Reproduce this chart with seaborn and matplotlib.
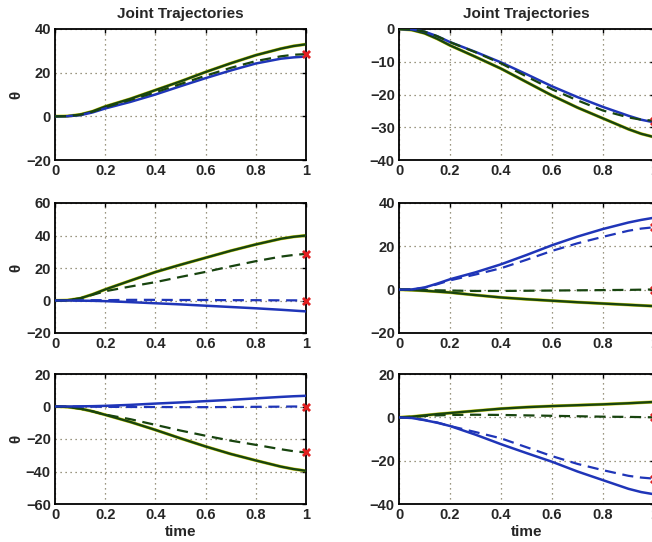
import numpy as np
import pandas as pd
import matplotlib
matplotlib.use("Agg")
import matplotlib.pyplot as plt
import seaborn as sns

# Sample times shared by every trajectory
t = [0, 0.05, 0.1, 0.15, 0.2, 0.3, 0.4, 0.5, 0.6, 0.7, 0.8, 0.9, 0.95, 1.0]

# Joint angles (degrees) for each panel: solid = actual, dashed = planned
tl_green = [0, 0.1, 0.8, 2.3, 4.5, 8.0, 12.0, 16.0, 20.3, 24.3, 28.0, 31.0, 32.2, 33.0]
tl_blue = [0, 0.05, 0.5, 1.8, 3.6, 6.6, 10.0, 13.8, 17.5, 21.0, 24.2, 26.4, 27.0, 27.4]
tl_green_d = [0, 0.1, 0.7, 2.1, 4.1, 7.5, 11.0, 14.8, 18.6, 22.2, 25.3, 27.5, 28.2, 28.5]

tr_green = [0, -0.3, -1.3, -3.0, -5.0, -8.5, -12.1, -16.2, -20.3, -24.0, -27.3, -30.6, -32.0, -33.0]
tr_blue = [0, -0.1, -0.8, -2.2, -4.0, -7.0, -10.2, -13.8, -17.5, -20.8, -23.8, -26.5, -27.7, -28.5]
tr_green_d = [0, -0.1, -0.8, -2.2, -4.0, -7.1, -10.5, -14.5, -18.4, -21.8, -24.9, -27.0, -27.7, -28.0]

ml_green = [0, 0.2, 1.3, 3.8, 6.8, 12.2, 17.5, 22.0, 26.3, 30.6, 34.5, 38.0, 39.2, 40.0]
ml_green_d = [0, 0.2, 1.3, 3.5, 5.7, 8.6, 11.3, 14.5, 17.6, 21.0, 24.2, 27.0, 28.0, 28.7]
ml_blue = [0, 0, -0.1, -0.2, -0.4, -1.0, -1.7, -2.4, -3.2, -4.0, -4.8, -5.7, -6.2, -6.7]
ml_blue_d = [0, 0, 0.1, 0.2, 0.2, 0.4, 0.4, 0.3, 0.3, 0.2, 0.2, 0.1, 0.1, 0.0]

mr_blue = [0, 0.1, 1.0, 2.8, 4.8, 8.0, 11.7, 16.0, 20.5, 24.5, 28.0, 31.0, 32.2, 33.2]
mr_blue_d = [0, 0.1, 0.9, 2.5, 4.3, 7.0, 9.9, 13.8, 17.9, 21.4, 24.4, 27.2, 28.2, 28.8]
mr_green = [0, -0.2, -0.5, -0.9, -1.3, -2.5, -3.6, -4.4, -5.1, -5.8, -6.4, -7.0, -7.3, -7.6]
mr_green_d = [0, 0, -0.2, -0.3, -0.4, -0.6, -0.6, -0.5, -0.4, -0.3, -0.2, -0.1, 0.0, 0.1]

bl_blue = [0, 0, 0.1, 0.2, 0.4, 1.0, 1.8, 2.5, 3.3, 4.1, 5.0, 5.9, 6.3, 6.6]
bl_blue_d = [0, 0, -0.1, -0.1, -0.2, -0.3, -0.3, -0.4, -0.4, -0.3, -0.2, -0.1, 0, 0]
bl_green = [0, -0.3, -1.3, -3.0, -5.1, -9.5, -14.4, -19.6, -24.6, -29.2, -33.2, -37.0, -38.5, -39.6]
bl_green_d = [0, -0.3, -1.3, -3.0, -5.0, -7.8, -11.3, -14.8, -18.0, -21.0, -23.6, -26.3, -27.5, -28.3]

br_green = [0, 0.3, 0.9, 1.5, 2.0, 3.0, 4.0, 4.7, 5.2, 5.6, 6.0, 6.5, 6.8, 7.1]
br_green_d = [0, 0.2, 0.6, 0.9, 1.1, 1.2, 1.1, 0.9, 0.7, 0.5, 0.3, 0.2, 0.1, 0.0]
br_blue = [0, -0.3, -1.3, -2.5, -4.0, -8.0, -12.4, -16.5, -20.5, -25.0, -29.0, -33.0, -34.5, -35.5]
br_blue_d = [0, -0.3, -1.2, -2.4, -4.0, -6.8, -9.7, -13.8, -17.9, -21.5, -24.4, -27.0, -27.8, -28.3]

# Goal angles reached at t = 1
tl_goal = [28.5]
tr_goal = [-28.0]
ml_goal = [28.7, 0.0]
mr_goal = [28.8, 0.0]
bl_goal = [0.0, -28.3]
br_goal = [0.0, -28.3]

# Axis ranges and ticks per panel
tl_ylim, tl_yticks = (-20, 40), [-20, 0, 20, 40]
tr_ylim, tr_yticks = (-40, 0), [-40, -30, -20, -10, 0]
ml_ylim, ml_yticks = (-20, 60), [-20, 0, 20, 40, 60]
mr_ylim, mr_yticks = (-20, 40), [-20, 0, 20, 40]
bl_ylim, bl_yticks = (-60, 20), [-60, -40, -20, 0, 20]
br_ylim, br_yticks = (-40, 20), [-40, -20, 0, 20]
xticks = [0, 0.2, 0.4, 0.6, 0.8, 1]
xticklabels = ["0", "0.2", "0.4", "0.6", "0.8", "1"]

BLUE = "#1f35b8"
GREEN = "#18440f"
YELLOW = "#d4d41c"

sns.set_style("white")
plt.rcParams["font.family"] = ["Liberation Sans", "DejaVu Sans"]
plt.rcParams["font.weight"] = "bold"

fig = plt.figure(figsize=(6.52, 5.42), dpi=100)

col_x = [(55 / 652, 251 / 652), (399 / 652, 255 / 652)]
row_y = [((542 - 160) / 542, 131 / 542), ((542 - 333) / 542, 130 / 542), ((542 - 504) / 542, 130 / 542)]

panels = [
    # (row, col, solid green, solid blue, dashed green, dashed blue, goals, ylim, yticks)
    (0, 0, tl_green, tl_blue, tl_green_d, None, tl_goal, tl_ylim, tl_yticks),
    (0, 1, tr_green, tr_blue, tr_green_d, None, tr_goal, tr_ylim, tr_yticks),
    (1, 0, ml_green, ml_blue, ml_green_d, ml_blue_d, ml_goal, ml_ylim, ml_yticks),
    (1, 1, mr_green, mr_blue, mr_green_d, mr_blue_d, mr_goal, mr_ylim, mr_yticks),
    (2, 0, bl_green, bl_blue, bl_green_d, bl_blue_d, bl_goal, bl_ylim, bl_yticks),
    (2, 1, br_green, br_blue, br_green_d, br_blue_d, br_goal, br_ylim, br_yticks),
]

for row, col, g, b, gd, bd, goal, ylim, yticks in panels:
    x0, w = col_x[col]
    y0, h = row_y[row]
    ax = fig.add_axes([x0, y0, w, h])

    ax.grid(True, color="#7a7458", linestyle=(0, (1, 3)), linewidth=0.9)
    ax.set_axisbelow(True)

    df = pd.DataFrame({"time": t, "green": g, "blue": b})
    sns.lineplot(data=df, x="time", y="green", ax=ax, color=YELLOW, linewidth=2.3, zorder=2)
    sns.lineplot(data=df, x="time", y="green", ax=ax, color=GREEN, linewidth=1.7, zorder=3)
    sns.lineplot(data=df, x="time", y="blue", ax=ax, color=BLUE, linewidth=1.8, zorder=3)
    if gd is not None:
        dfg = pd.DataFrame({"time": t, "v": gd})
        sns.lineplot(data=dfg, x="time", y="v", ax=ax, color=GREEN, linewidth=1.6,
                     linestyle=(0, (5, 3)), zorder=4)
    if bd is not None:
        dfb = pd.DataFrame({"time": t, "v": bd})
        sns.lineplot(data=dfb, x="time", y="v", ax=ax, color=BLUE, linewidth=1.6,
                     linestyle=(0, (5, 3)), zorder=4)

    gdf = pd.DataFrame({"time": [1.0] * len(goal), "v": goal})
    sns.scatterplot(data=gdf, x="time", y="v", ax=ax, marker="x", color="#e02020",
                    s=26, linewidth=2.0, zorder=6, clip_on=False)

    ax.set_xlim(0, 1)
    ax.set_ylim(*ylim)
    ax.set_xticks(xticks)
    ax.set_xticklabels(xticklabels)
    ax.set_yticks(yticks)
    ax.tick_params(direction="in", top=True, right=True, length=3, width=1,
                   labelsize=10.5, pad=3, color="black")
    for lab in ax.get_xticklabels() + ax.get_yticklabels():
        lab.set_fontweight("bold")
    for sp in ax.spines.values():
        sp.set_color("black")
        sp.set_linewidth(1.3)

    ax.set_xlabel("time" if row == 2 else "", fontsize=11, fontweight="bold", labelpad=2)
    if col == 0:
        ax.set_ylabel("θ", fontsize=11, fontweight="bold", labelpad=2)
    else:
        ax.set_ylabel("")
    if row == 0:
        ax.set_title("Joint Trajectories", fontsize=11, fontweight="bold", pad=8)

fig.savefig("out.png", dpi=100)
